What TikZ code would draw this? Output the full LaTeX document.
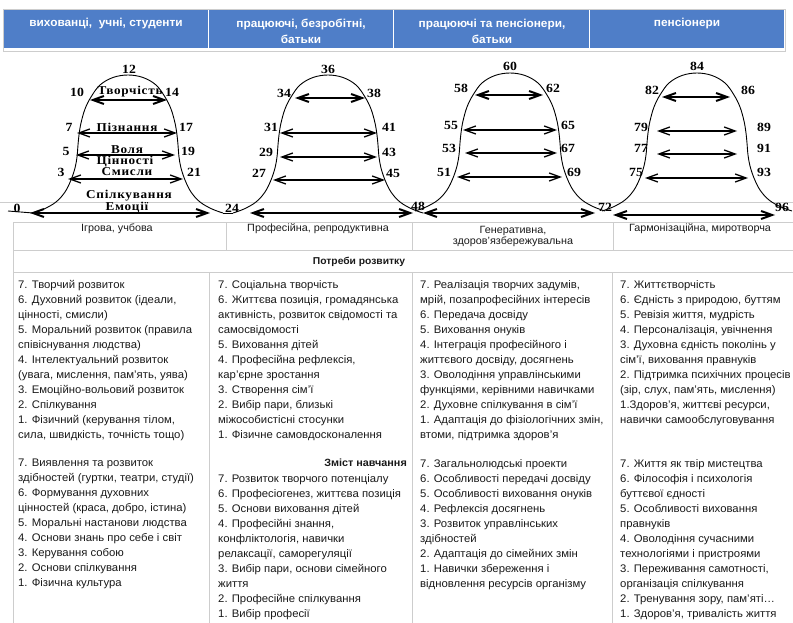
\documentclass[tikz,border=0pt]{standalone}
\usepackage{fontspec}
\setmainfont{Liberation Sans}[FakeStretch=1.03]
\newfontfamily\labelfont{Liberation Serif}[FakeStretch=1.1,LetterSpace=6]
\newfontfamily\markfont{Liberation Serif}[FakeStretch=1.1]
\usetikzlibrary{arrows.meta}

\definecolor{headblue}{RGB}{79,126,200}
\definecolor{gridgray}{RGB}{205,205,205}
\definecolor{inkgray}{RGB}{25,25,25}

\tikzset{
  hdr/.style={font=\fontsize{11.5}{16}\selectfont\bfseries, text=white, align=center, inner sep=0},
  num/.style={font=\markfont\bfseries\fontsize{12.5}{12.5}\selectfont, inner sep=0},
  lvl/.style={font=\labelfont\bfseries\fontsize{12}{12}\selectfont, inner sep=0},
  bellline/.style={line width=0.9pt},
  span/.style={line width=1.3pt, {Straight Barb[length=11pt,width=8pt]}-{Straight Barb[length=11pt,width=8pt]}},
  spanthick/.style={span, line width=2pt},
  grid/.style={draw=gridgray, line width=0.7pt},
  act/.style={font=\fontsize{10.5}{11}\selectfont, text=inkgray, align=center, inner sep=0},
  body/.style={font=\fontsize{11}{15}\selectfont, text=inkgray, align=left, anchor=north west, inner sep=0},
  bell/.pic={\draw[bellline] plot[smooth,tension=0.6] coordinates {(-95,138) (-84,134) (-72,127) (-63,117) (-57,105) (-53,93) (-51,82) (-50,70) (-49,60) (-47,48) (-43,34) (-37,22) (-28,10) (-15,2.5) (0,0) (15,2.5) (28,10) (37,22) (43,34) (47,48) (49,60) (50,70) (51,82) (53,93) (57,105) (63,117) (72,127) (84,134) (95,138)};}
}

\begin{document}
\begin{tikzpicture}[x=1pt,y=-1pt]
\useasboundingbox (0,0) rectangle (793,623);

% ---- header band with the age groups
\draw[gridgray, line width=0.6pt] (3,9) rectangle (785,51);
\fill[headblue] (4,10) rectangle (784,48);
\foreach \xx in {208,393,589} \draw[white, line width=1pt] (\xx,10) -- (\xx,48);
\node[hdr] (h1) at (106,23.5) {вихованці,\ \ учні, студенти};
\node[hdr] (h2) at (301,31) {працюючі, безробітні,\\батьки};
\node[hdr] (h3) at (492,31) {працюючі та пенсіонери,\\батьки};
\node[hdr] (h4) at (687,23.5) {пенсіонери};

% ---- guide line behind the curves
\draw[gridgray, line width=0.6pt] (0,202) -- (793,202);

% ---- the four bell curves
\pic at (128,75) {bell};
\pic at (328,75) {bell};
\pic at (510,73) {bell};
\pic at (697,73) {bell};
\coordinate (v1a) at (223,213);
\coordinate (v1b) at (233,213);
\draw[bellline] (v1a) -- (v1b);
\coordinate (z0a) at (8,211);
\coordinate (z0b) at (33,213);
\draw[bellline] (z0a) -- (z0b);

% ---- arrows spanning the bells
\foreach \nm/\xa/\xb/\yy/\st in {
  a1/90/167/100/spanthick, a2/77/177/133/span, a3/76/175/155/span, a4/68/183/179/span, a5/30/210/213/spanthick,
  b1/295/365/98/spanthick, b2/280/377/133/span, b3/280/377/157/span, b4/273/385/180/span, b5/250/413/213/spanthick,
  c1/475/543/95/spanthick, c2/463/557/130/span, c3/465/557/153/span, c4/457/562/177/span, c5/423/595/213/spanthick,
  d1/662/730/97/spanthick, d2/657/737/131/span, d3/657/737/154/span, d4/645/748/178/span, d5/613/775/215/spanthick}
{
  \coordinate (\nm l) at (\xa,\yy);
  \coordinate (\nm r) at (\xb,\yy);
  \draw[\st] (\nm l) -- (\nm r);
}

% ---- age marks along the curves
\foreach \tx/\xx/\yy in {
  0/17/208, 3/61/172, 5/66/151, 7/69/127, 10/77/92, 12/129/69, 14/172/92, 17/186/127, 19/188/151, 21/194/172,
  24/232/208, 27/259/173, 29/266/152, 31/271/127, 34/284/93, 36/328/69, 38/374/93, 41/389/127, 43/389/152, 45/393/173,
  48/418/206, 51/444/172, 53/449/148, 55/451/125, 58/461/88, 60/510/66, 62/553/88, 65/568/125, 67/568/148, 69/574/172,
  72/605/207, 75/636/172, 77/641/148, 79/641/127, 82/652/90, 84/697/66, 86/748/90, 89/764/127, 91/764/148, 93/764/172, 96/782/207}
{ \node[num] (n\tx) at (\xx,\yy) {\tx}; }

% ---- development domains inside the first bell
\node[lvl] (l1) at (130,92) {Творчість};
\node[lvl] (l2) at (127,127) {Пізнання};
\node[lvl] (l3) at (127,150) {Воля};
\node[lvl] (l4) at (125,161.5) {Цінності};
\node[lvl] (l5) at (127,172) {Смисли};
\node[lvl] (l6) at (129,196) {Спілкування};
\node[lvl] (l7) at (127,207.5) {Емоції};

% ---- table: leading activity
\draw[grid] (13,222) -- (793,222);
\draw[grid] (13,250) -- (793,250);
\draw[grid] (13,272) -- (793,272);
\foreach \xx in {13,226,412,613} \draw[grid] (\xx,222) -- (\xx,250);
\node[act] (t1) at (117,229) {Ігрова, учбова};
\node[act] (t2) at (318,229) {Професійна, репродуктивна};
\node[act] (t3) at (513,236.5) {Генеративна,\\здоров'язбережувальна};
\node[act] (t4) at (700,229) {Гармонізаційна, миротворча};
\draw[grid] (13,250) -- (13,272);
\node[font=\fontsize{10}{12}\selectfont\bfseries, text=inkgray, inner sep=0] (pr) at (359,262) {Потреби розвитку};

% ---- columns of needs and learning content
\foreach \xx in {13,209,412,612} \draw[grid] (\xx,272) -- (\xx,623);

\node[body] (u1) at (18,280) {7. Творчий розвиток\\
6. Духовний розвиток (ідеали,\\
цінності, смисли)\\
5. Моральний розвиток (правила\\
співіснування людства)\\
4. Інтелектуальний розвиток\\
(увага, мислення, пам'ять, уява)\\
3. Емоційно-вольовий розвиток\\
2. Спілкування\\
1. Фізичний (керування тілом,\\
сила, швидкість, точність тощо)};

\node[body] (u2) at (218,280) {7. Соціальна творчість\\
6. Життєва позиція, громадянська\\
активність, розвиток свідомості та\\
самосвідомості\\
5. Виховання дітей\\
4. Професійна рефлексія,\\
кар'єрне зростання\\
3. Створення сім'ї\\
2. Вибір пари, близькі\\
міжособистісні стосунки\\
1. Фізичне самовдосконалення};

\node[body] (u3) at (420,280) {7. Реалізація творчих задумів,\\
мрій, позапрофесійних інтересів\\
6. Передача досвіду\\
5. Виховання онуків\\
4. Інтеграція професійного і\\
життєвого досвіду, досягнень\\
3. Оволодіння управлінськими\\
функціями, керівними навичками\\
2. Духовне спілкування в сім'ї\\
1. Адаптація до фізіологічних змін,\\
втоми, підтримка здоров'я};

\node[body] (u4) at (620,280) {7. Життєтворчість\\
6. Єдність з природою, буттям\\
5. Ревізія життя, мудрість\\
4. Персоналізація, увічнення\\
3. Духовна єдність поколінь у\\
сім'ї, виховання правнуків\\
2. Підтримка психічних процесів\\
(зір, слух, пам'ять, мислення)\\
1.Здоров'я, життєві ресурси,\\
навички самообслуговування};

\node[font=\fontsize{10.5}{12}\selectfont\bfseries, text=inkgray, inner sep=0, anchor=east] (zm) at (407,463) {Зміст навчання};

\node[body] (w1) at (18,459) {7. Виявлення та розвиток\\
здібностей (гуртки, театри, студії)\\
6. Формування духовних\\
цінностей (краса, добро, істина)\\
5. Моральні настанови людства\\
4. Основи знань про себе і світ\\
3. Керування собою\\
2. Основи спілкування\\
1. Фізична культура};

\node[body] (w2) at (218,474) {7. Розвиток творчого потенціалу\\
6. Професіогенез, життєва позиція\\
5. Основи виховання дітей\\
4. Професійні знання,\\
конфліктологія, навички\\
релаксації, саморегуляції\\
3. Вибір пари, основи сімейного\\
життя\\
2. Професійне спілкування\\
1. Вибір професії};

\node[body] (w3) at (420,459) {7. Загальнолюдські проекти\\
6. Особливості передачі досвіду\\
5. Особливості виховання онуків\\
4. Рефлексія досягнень\\
3. Розвиток управлінських\\
здібностей\\
2. Адаптація до сімейних змін\\
1. Навички збереження і\\
відновлення ресурсів організму};

\node[body] (w4) at (620,459) {7. Життя як твір мистецтва\\
6. Філософія і психологія\\
буттєвої єдності\\
5. Особливості виховання\\
правнуків\\
4. Оволодіння сучасними\\
технологіями і пристроями\\
3. Переживання самотності,\\
організація спілкування\\
2. Тренування зору, пам'яті…\\
1. Здоров'я, тривалість життя};
\end{tikzpicture}
\end{document}
